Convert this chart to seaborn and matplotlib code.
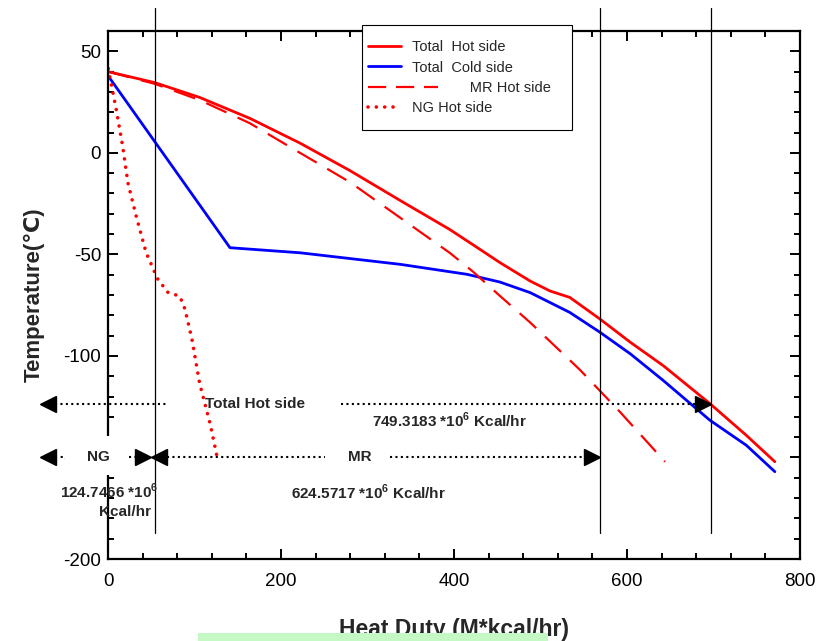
import numpy as np
import pandas as pd
import matplotlib
matplotlib.use("Agg")
import matplotlib.pyplot as plt
import seaborn as sns
from matplotlib.legend_handler import HandlerLine2D
from matplotlib.patches import Rectangle
from matplotlib.ticker import MultipleLocator

# ---------------- data ----------------
total_hot_x = [0, 54, 106, 164, 222, 280, 338, 395, 430, 453, 488, 511, 534, 569, 604, 642, 696, 738, 771]
total_hot_y = [40, 34.6, 27.3, 17.0, 4.8, -8.8, -23.5, -37.7, -47.5, -54.0, -63.1, -68.0, -71.2,
               -81.9, -93.3, -104.8, -123.5, -139.1, -152.1]

total_cold_x = [0, 141, 222, 338, 415, 453, 488, 534, 569, 604, 642, 696, 738, 771]
total_cold_y = [38, -46.7, -49.2, -54.9, -59.8, -63.6, -68.8, -78.6, -88.4, -99.0, -112.1, -131.7, -144.0, -157.0]

mr_hot_x = [0, 54, 106, 164, 222, 280, 338, 395, 422, 453, 488, 546, 592, 644]
mr_hot_y = [40, 34.0, 26.0, 14.6, 0.0, -14.5, -32.0, -49.2, -58.5, -70.4, -83.5, -107.0, -127.6, -152.1]

ng_hot_x = [0.3, 10, 17, 23, 33, 44, 57, 69, 83, 89, 97, 106, 118, 127]
ng_hot_y = [41.5, 20.2, 3.1, -14.7, -31.9, -49.0, -61.8, -68.6, -70.6, -77.0, -91.7, -113.7, -133.3, -151.5]

series_labels = ["Total  Hot side", "Total  Cold side", "              MR Hot side", "NG Hot side"]
boundary_x = [54.5, 569, 697]

total_duty_text = r"749.3183 *10$^{\mathbf{6}}$ Kcal/hr"
ng_duty_text = r"124.7466 *10$^{\mathbf{6}}$"
mr_duty_text = r"624.5717 *10$^{\mathbf{6}}$ Kcal/hr"

# ---------------- style ----------------
sns.set_style("ticks")
plt.rcParams['font.family'] = ['Liberation Sans', 'DejaVu Sans']
plt.rcParams['axes.linewidth'] = 1.6
plt.rcParams['axes.unicode_minus'] = False
plt.rcParams['mathtext.fontset'] = 'custom'
plt.rcParams['mathtext.rm'] = 'Liberation Sans'
plt.rcParams['mathtext.bf'] = 'Liberation Sans:bold'

fig = plt.figure(figsize=(8.27, 6.41), dpi=100)
ax = fig.add_axes([0.1306, 0.1279, 0.8367, 0.8237])

RED = '#FF0000'
BLUE = '#0000FF'

sns.lineplot(x=total_hot_x, y=total_hot_y, ax=ax, color=RED, lw=2.0, estimator=None, sort=False)
sns.lineplot(x=total_cold_x, y=total_cold_y, ax=ax, color=BLUE, lw=2.0, estimator=None, sort=False)
sns.lineplot(x=mr_hot_x, y=mr_hot_y, ax=ax, color=RED, lw=1.6, estimator=None, sort=False,
             linestyle=(0, (10, 5.5)))
sns.lineplot(x=ng_hot_x, y=ng_hot_y, ax=ax, color=RED, lw=2.6, estimator=None, sort=False,
             linestyle=(0, (0.01, 2.3)), dash_capstyle='round')

lines = ax.get_lines()[:4]

ax.set_xlim(0, 800)
ax.set_ylim(-200, 60)
ax.xaxis.set_major_locator(MultipleLocator(200))
ax.xaxis.set_minor_locator(MultipleLocator(40))
ax.yaxis.set_major_locator(MultipleLocator(50))
ax.yaxis.set_minor_locator(MultipleLocator(10))
ax.tick_params(which='both', direction='in', top=True, right=True, width=1.4, colors='black')
ax.tick_params(which='major', length=7, labelsize=13.5)
ax.tick_params(which='minor', length=4)
ax.tick_params(axis='y', which='major', pad=5)
ax.tick_params(axis='x', which='major', pad=10)
for sp in ax.spines.values():
    sp.set_visible(True)
    sp.set_linewidth(1.6)
    sp.set_color('black')

ax.set_ylabel('Temperature(\u2103)', fontsize=16, fontweight='bold')
ax.yaxis.set_label_coords(-0.092, 0.5)
ax.set_xlabel('Heat Duty (M*kcal/hr)', fontsize=16.5, fontweight='bold')
ax.xaxis.set_label_coords(0.5, -0.112)

# vertical boundary lines
for bx in boundary_x:
    ax.plot([bx, bx], [71.1, -187.3], color='black', lw=0.9, clip_on=False, zorder=2)

# ---------------- annotations ----------------
dot_kw = dict(color='black', lw=1.5, linestyle=(0, (1, 1.6)), clip_on=False, zorder=5)
tri_kw = dict(color='black', markersize=11, clip_on=False, zorder=6, linestyle='none')

y1 = -123.5
ax.plot([-61.3, 69.4], [y1, y1], **dot_kw)
ax.plot([269.4, 679], [y1, y1], **dot_kw)
ax.plot([-69.9], [y1], marker='<', **tri_kw)
ax.plot([687.9], [y1], marker='>', **tri_kw)
ax.text(170, y1, 'Total Hot side', fontsize=11, fontweight='bold', ha='center', va='center')
ax.text(395, -131.5, total_duty_text, fontsize=11, fontweight='bold', ha='center', va='center')

y2 = -150
# white box that hides the spine behind the NG label
ax.add_patch(Rectangle((-49.7, -158.8), 72.8, 19.6, facecolor='white', edgecolor='none',
                       clip_on=False, zorder=4))
ax.plot([-62, -52], [y2, y2], color='black', lw=1.5, linestyle=(0, (1, 2.2)),
        clip_on=False, zorder=5)
ax.plot([24, 33], [y2, y2], **dot_kw)
ax.plot([68.2, 250.9], [y2, y2], **dot_kw)
ax.plot([326, 553], [y2, y2], **dot_kw)
ax.plot([-69.9], [y2], marker='<', **tri_kw)
ax.plot([39.9], [y2], marker='>', **tri_kw)
ax.plot([59.5], [y2], marker='<', **tri_kw)
ax.plot([560.1], [y2], marker='>', **tri_kw)
ax.text(-11.3, y2, 'NG', fontsize=11, fontweight='bold', ha='center', va='center', zorder=5)
ax.text(291, y2, 'MR', fontsize=11, fontweight='bold', ha='center', va='center')
ax.text(1.2, -166.7, ng_duty_text, fontsize=11, fontweight='bold', ha='center', va='center')
ax.text(19.7, -177, 'Kcal/hr', fontsize=11, fontweight='bold', ha='center', va='center')
ax.text(301.7, -167.2, mr_duty_text, fontsize=11, fontweight='bold', ha='center', va='center')

# ---------------- legend ----------------
class ShiftHandler(HandlerLine2D):
    def __init__(self, shift=7, scale=1.0, dashes=None, **kw):
        super().__init__(**kw)
        self.shift = shift
        self.scale = scale
        self.dashes = dashes

    def create_artists(self, legend, orig_handle, xdescent, ydescent, width, height, fontsize, trans):
        arts = super().create_artists(legend, orig_handle, xdescent + self.shift, ydescent,
                                      width * self.scale, height, fontsize, trans)
        if self.dashes is not None:
            for a in arts:
                a.set_linestyle((0, self.dashes))
        return arts

hmap = {lines[0]: ShiftHandler(scale=1.19), lines[1]: ShiftHandler(scale=1.19),
        lines[2]: ShiftHandler(scale=2.53, dashes=(8.2, 4.4)), lines[3]: ShiftHandler(scale=1.0)}
leg = ax.legend(lines, series_labels, handler_map=hmap,
                loc='upper left', bbox_to_anchor=(0.367, 0.816, 0.3035, 0.1954), mode='expand',
                borderaxespad=0, fontsize=10.5, handlelength=1.9, handletextpad=0.45,
                labelspacing=0.43, borderpad=1.05, frameon=True, fancybox=False,
                edgecolor='black', framealpha=1)
leg.get_frame().set_linewidth(0.8)
leg.set_zorder(7)

# light green strip at the bottom of the image
fig.add_artist(Rectangle((198 / 827, 0), 350 / 827, 8 / 641, transform=fig.transFigure,
                         facecolor='#C4F8C4', edgecolor='none', zorder=10))

fig.savefig('out.png', dpi=100)
